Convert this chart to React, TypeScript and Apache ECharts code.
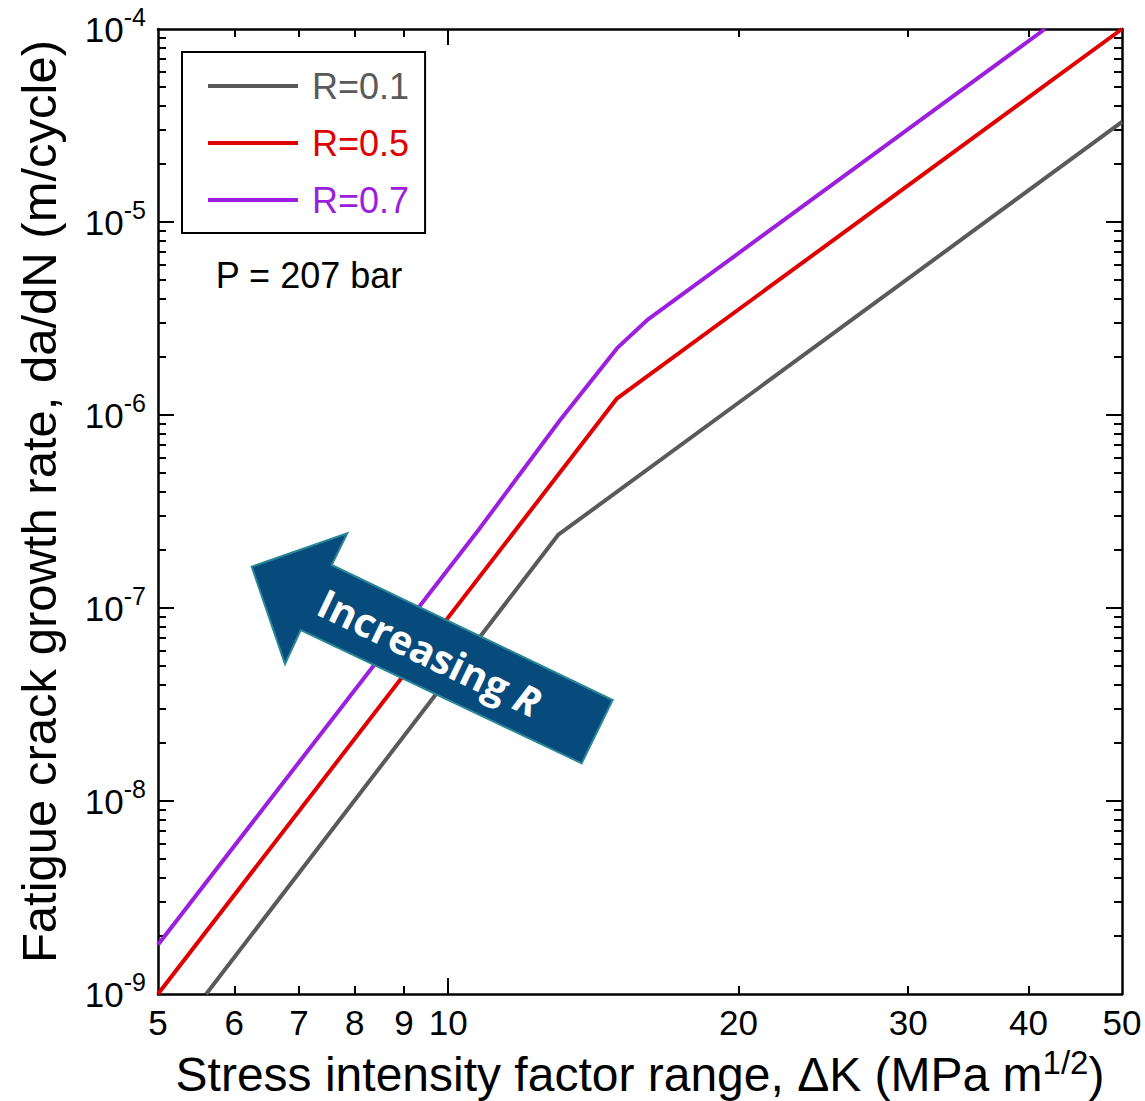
import React, { useEffect, useRef } from 'react';
import * as echarts from 'echarts';

const seriesNames = ['R=0.1', 'R=0.5', 'R=0.7'];
const seriesColors = ['#5a5a5a', '#e00000', '#9b1fdc'];
const r01: number[][] = [[5.61, 1e-9], [13.0, 2.39e-7], [50, 3.3e-5]];
const r05: number[][] = [[5, 1e-9], [14.97, 1.22e-6], [50, 1e-4]];
const r07: number[][] = [[5, 1.8e-9], [10.79, 2.6e-7], [13.06, 9.4e-7], [14.97, 2.22e-6], [16.08, 3.1e-6], [41.6, 1e-4]];

const xLabelValues = [5, 6, 7, 8, 9, 10, 20, 30, 40, 50];
const xMinorTicks = [6, 7, 8, 9, 20, 30, 40];
const xMajorTicks = [10];
const yLabelValues = [1e-9, 1e-8, 1e-7, 1e-6, 1e-5, 1e-4];
const yMajorTicks = [1e-8, 1e-7, 1e-6, 1e-5];
const yMinorTicks = [
  2e-9, 3e-9, 4e-9, 5e-9, 6e-9, 7e-9, 8e-9, 9e-9,
  2e-8, 3e-8, 4e-8, 5e-8, 6e-8, 7e-8, 8e-8, 9e-8,
  2e-7, 3e-7, 4e-7, 5e-7, 6e-7, 7e-7, 8e-7, 9e-7,
  2e-6, 3e-6, 4e-6, 5e-6, 6e-6, 7e-6, 8e-6, 9e-6,
  2e-5, 3e-5, 4e-5, 5e-5, 6e-5, 7e-5, 8e-5, 9e-5,
];

const xTitle = 'Stress intensity factor range, ΔK (MPa m';
const xTitleSup = '1/2';
const yTitle = 'Fatigue crack growth rate, da/dN (m/cycle)';
const pressureNote = 'P = 207 bar';
const arrowText = 'Increasing ';
const arrowTextItalic = 'R';

const FONT = "'Liberation Sans', Arial, Helvetica, sans-serif";

export default function App() {
  const ref = useRef<HTMLDivElement>(null);
  useEffect(() => {
    if (!ref.current) return;
    const chart = echarts.init(ref.current, null, { renderer: 'svg' });
    const tickStyle = { color: '#000', width: 2 };
    const lineStyle = { color: '#000', width: 2.5 };
    const base = {
      type: 'log' as const,
      logBase: 10,
      gridIndex: 0,
      splitLine: { show: false },
      minorTick: { show: false },
      minorSplitLine: { show: false },
    };
    const xBase = { ...base, min: 5, max: 50 };
    const yBase = { ...base, min: 1e-9, max: 1e-4 };
    const option: any = {
      animation: false,
      backgroundColor: '#fff',
      grid: { left: 158, top: 29, right: 23, bottom: 107, containLabel: false, outerBoundsMode: 'none' },
      legend: {
        orient: 'vertical',
        left: 182,
        top: 52,
        padding: [14, 16, 13, 26],
        borderColor: '#000',
        borderWidth: 2,
        backgroundColor: '#fff',
        icon: 'rect',
        itemWidth: 90,
        itemHeight: 4,
        itemGap: 17,
        selectedMode: false,
        textStyle: { fontSize: 36, fontFamily: FONT, lineHeight: 40, padding: [0, 0, 0, 9] },
        data: seriesNames.map((n, i) => ({ name: n, textStyle: { color: seriesColors[i] } })),
      },
      xAxis: [
        {
          ...xBase,
          position: 'bottom',
          axisLine: { show: true, onZero: false, lineStyle },
          axisTick: { show: true, inside: true, length: 8, lineStyle: tickStyle, customValues: xMinorTicks },
          axisLabel: {
            show: true,
            customValues: xLabelValues,
            formatter: (v: number) => String(Math.round(v)),
            color: '#000',
            fontSize: 35,
            fontFamily: FONT,
            margin: 11,
          },
          name: '{a|' + xTitle + '}{s|' + xTitleSup + '}{a|)}',
          nameLocation: 'middle',
          nameGap: 56,
          nameTextStyle: {
            rich: {
              a: { fontSize: 48, fontFamily: FONT, color: '#000', lineHeight: 48 },
              s: { fontSize: 33, fontFamily: FONT, color: '#000', lineHeight: 24, padding: [0, 0, 24, 0] },
            },
          },
        },
        {
          ...xBase,
          position: 'bottom',
          axisLine: { show: false },
          axisTick: { show: true, inside: true, length: 16, lineStyle: tickStyle, customValues: xMajorTicks },
          axisLabel: { show: false },
        },
        {
          ...xBase,
          position: 'top',
          axisLine: { show: true, onZero: false, lineStyle },
          axisTick: { show: true, inside: true, length: 8, lineStyle: tickStyle, customValues: xMinorTicks },
          axisLabel: { show: false },
        },
        {
          ...xBase,
          position: 'top',
          axisLine: { show: false },
          axisTick: { show: true, inside: true, length: 16, lineStyle: tickStyle, customValues: xMajorTicks },
          axisLabel: { show: false },
        },
      ],
      yAxis: [
        {
          ...yBase,
          position: 'left',
          axisLine: { show: true, onZero: false, lineStyle },
          axisTick: { show: true, inside: true, length: 16, lineStyle: tickStyle, customValues: yMajorTicks },
          axisLabel: {
            show: true,
            customValues: yLabelValues,
            formatter: (v: number) => '{b|10}{s|' + Math.round(Math.log10(v)) + '}',
            margin: 12,
            rich: {
              b: { fontSize: 35, fontFamily: FONT, color: '#000', lineHeight: 46 },
              s: { fontSize: 25, fontFamily: FONT, color: '#000', lineHeight: 22, padding: [0, 0, 24, 0] },
            },
          },
          name: yTitle,
          nameLocation: 'middle',
          nameRotate: 90,
          nameGap: 95,
          nameTextStyle: { fontSize: 49, fontFamily: FONT, color: '#000', lineHeight: 49, padding: [0, 0, 0, 20] },
        },
        {
          ...yBase,
          position: 'left',
          axisLine: { show: false },
          axisTick: { show: true, inside: true, length: 8, lineStyle: tickStyle, customValues: yMinorTicks },
          axisLabel: { show: false },
        },
        {
          ...yBase,
          position: 'right',
          axisLine: { show: true, onZero: false, lineStyle },
          axisTick: { show: true, inside: true, length: 16, lineStyle: tickStyle, customValues: yMajorTicks },
          axisLabel: { show: false },
        },
        {
          ...yBase,
          position: 'right',
          axisLine: { show: false },
          axisTick: { show: true, inside: true, length: 8, lineStyle: tickStyle, customValues: yMinorTicks },
          axisLabel: { show: false },
        },
      ],
      series: [r01, r05, r07].map((d, i) => ({
        name: seriesNames[i],
        type: 'line',
        xAxisIndex: 0,
        yAxisIndex: 0,
        data: d,
        symbol: 'none',
        color: seriesColors[i],
        lineStyle: { color: seriesColors[i], width: 4 },
        z: 3,
      })),
      graphic: [
        {
          type: 'text',
          x: 309,
          y: 275,
          z: 50,
          style: {
            text: pressureNote,
            fontSize: 36,
            fontFamily: FONT,
            fill: '#000',
            align: 'center',
            verticalAlign: 'middle',
          },
        },
        {
          type: 'polygon',
          z: 60,
          shape: {
            points: [
              [251.7, 566.7], [347.3, 533.3], [331.7, 565], [612.7, 700],
              [581.7, 763.3], [300.7, 630], [285, 664],
            ],
          },
          style: { fill: '#064b7c', stroke: '#2a8796', lineWidth: 2 },
        },
        {
          type: 'text',
          x: 430,
          y: 652,
          rotation: -0.447,
          z: 61,
          style: {
            text: '{a|' + arrowText + '}{b|' + arrowTextItalic + '}',
            align: 'center',
            verticalAlign: 'middle',
            rich: {
              a: { fontSize: 40, fontFamily: "'Open Sans', sans-serif", fontWeight: 'bold', fill: '#fff', color: '#fff' },
              b: { fontSize: 40, fontFamily: "'Open Sans', sans-serif", fontWeight: 'bold', fontStyle: 'italic', fill: '#fff', color: '#fff' },
            },
          },
        },
      ],
    };
    chart.setOption(option);
    return () => chart.dispose();
  }, []);
  return <div ref={ref} style={{ position: 'fixed', left: 0, top: 0, width: 1145, height: 1101 }} />;
}
